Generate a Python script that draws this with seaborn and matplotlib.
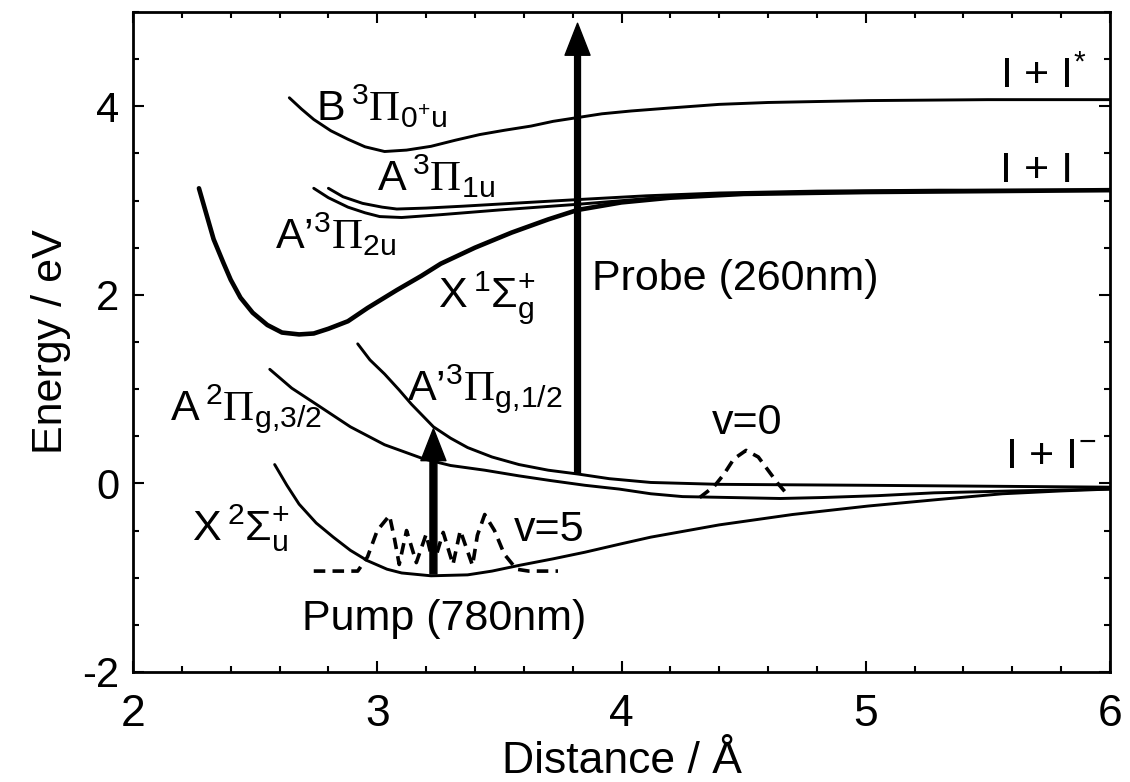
import matplotlib
matplotlib.use('Agg')
import matplotlib.pyplot as plt
import seaborn as sns
from matplotlib.ticker import MultipleLocator

# potential energy curves: distance (A) / energy (eV)
b_x = [2.64, 2.69, 2.74, 2.81, 2.88, 2.95, 3.03, 3.12, 3.22, 3.32, 3.42, 3.52, 3.63, 3.72,
       3.82, 3.92, 4.04, 4.19, 4.40, 4.60, 4.80, 5.01, 5.50, 6.00]
b_y = [4.09, 3.97, 3.86, 3.74, 3.65, 3.57, 3.52, 3.535, 3.575, 3.64, 3.70, 3.745, 3.79, 3.84,
       3.88, 3.92, 3.95, 3.98, 4.02, 4.04, 4.05, 4.06, 4.07, 4.07]

a1u_x = [2.80, 2.86, 2.94, 3.02, 3.08, 3.20, 3.35, 3.55, 3.82, 4.10, 4.40, 4.80, 5.30, 6.00]
a1u_y = [3.13, 3.04, 2.97, 2.93, 2.91, 2.92, 2.94, 2.97, 3.01, 3.05, 3.08, 3.10, 3.11, 3.11]

a2u_x = [2.74, 2.80, 2.88, 2.95, 3.01, 3.10, 3.26, 3.50, 3.82, 4.10, 4.40, 4.80, 5.30, 6.00]
a2u_y = [3.13, 3.03, 2.93, 2.87, 2.83, 2.82, 2.85, 2.90, 2.96, 3.02, 3.06, 3.09, 3.10, 3.11]

xg_x = [2.27, 2.30, 2.33, 2.37, 2.40, 2.44, 2.49, 2.55, 2.61, 2.68, 2.74, 2.80, 2.88, 2.96,
        3.08, 3.18, 3.26, 3.40, 3.55, 3.70, 3.82, 4.00, 4.20, 4.50, 5.00, 6.00]
xg_y = [3.13, 2.86, 2.59, 2.34, 2.16, 1.97, 1.81, 1.68, 1.60, 1.58, 1.59, 1.64, 1.72, 1.86,
        2.05, 2.20, 2.33, 2.50, 2.66, 2.80, 2.90, 2.98, 3.03, 3.07, 3.09, 3.11]

ag32_x = [2.56, 2.65, 2.75, 2.89, 3.03, 3.19, 3.30, 3.44, 3.58, 3.71, 3.85, 3.99, 4.12, 4.25,
          4.45, 4.65, 4.82, 5.05, 5.28, 5.60, 6.00]
ag32_y = [1.21, 1.01, 0.84, 0.60, 0.41, 0.26, 0.19, 0.14, 0.08, 0.03, -0.02, -0.06, -0.11, -0.14,
          -0.15, -0.16, -0.15, -0.13, -0.10, -0.08, -0.06]

ag12_x = [2.92, 2.97, 3.03, 3.09, 3.14, 3.23, 3.30, 3.37, 3.47, 3.58, 3.70, 3.82, 3.95, 4.12,
          4.40, 5.00, 6.00]
ag12_y = [1.48, 1.31, 1.16, 0.99, 0.84, 0.60, 0.48, 0.38, 0.28, 0.20, 0.14, 0.10, 0.05, 0.01,
          -0.01, -0.02, -0.04]

xu_x = [2.58, 2.63, 2.68, 2.75, 2.82, 2.89, 2.96, 3.04, 3.10, 3.22, 3.37, 3.47, 3.58, 3.72,
        3.85, 4.00, 4.12, 4.40, 4.70, 5.01, 5.30, 5.56, 5.80, 6.00]
xu_y = [0.20, -0.02, -0.22, -0.42, -0.57, -0.71, -0.82, -0.91, -0.95, -0.98, -0.97, -0.93, -0.87, -0.80,
        -0.73, -0.64, -0.57, -0.44, -0.33, -0.24, -0.17, -0.11, -0.08, -0.06]

# vibrational wavefunctions (dashed)
v5_x = [2.74, 2.92, 2.96, 3.00, 3.05, 3.07, 3.09, 3.12, 3.16, 3.20, 3.23, 3.27, 3.31, 3.34,
        3.39, 3.41, 3.44, 3.48, 3.52, 3.57, 3.62, 3.74]
v5_y = [-0.93, -0.93, -0.78, -0.50, -0.34, -0.58, -0.86, -0.50, -0.84, -0.54, -0.86, -0.52, -0.86, -0.50,
        -0.87, -0.55, -0.33, -0.50, -0.75, -0.91, -0.93, -0.93]

v0_x = [4.32, 4.38, 4.42, 4.46, 4.51, 4.56, 4.60, 4.64, 4.68]
v0_y = [-0.15, -0.03, 0.10, 0.26, 0.35, 0.28, 0.14, 0.00, -0.12]

# pump / probe transitions: (x, y_start, y_end)
pump = (3.23, -0.96, 0.58)
probe = (3.82, 0.10, 4.88)

labels = [
    (2.75, 3.84, r'B$\,^{3}\mathcal{Π}_{0^{+}u}$'),
    (3.00, 3.10, r'A$\,^{3}\mathcal{Π}_{1u}$'),
    (2.58, 2.48, r'A’$^{3}\mathcal{Π}_{2u}$'),
    (3.25, 1.87, r'X$\,^{1}Σ_{g}^{+}$'),
    (3.88, 2.05, 'Probe (260nm)'),
    (2.15, 0.67, r'A$\,^{2}\mathcal{Π}_{g{,}3/2}$'),
    (3.12, 0.88, r'A’$^{3}\mathcal{Π}_{g{,}1/2}$'),
    (2.24, -0.61, r'X$\,^{2}Σ_{u}^{+}$'),
    (3.56, -0.61, 'v=5'),
    (2.69, -1.56, 'Pump (780nm)'),
    (4.37, 0.52, 'v=0'),
    (5.55, 4.19, r'I + I$^{*}$'),
    (5.55, 3.20, 'I + I'),
    (5.57, 0.16, r'I + I$^{-}$'),
]

sns.set_theme(style='ticks')
plt.rcParams['font.family'] = ['Liberation Sans', 'DejaVu Sans']
plt.rcParams['mathtext.fontset'] = 'custom'
plt.rcParams['mathtext.rm'] = 'Liberation Sans'
plt.rcParams['mathtext.it'] = 'Liberation Sans'
plt.rcParams['mathtext.cal'] = 'Liberation Serif'
plt.rcParams['mathtext.default'] = 'regular'
plt.rcParams['axes.unicode_minus'] = False
for key in ['text.color', 'axes.labelcolor', 'xtick.color', 'ytick.color', 'axes.edgecolor']:
    plt.rcParams[key] = 'black'

fig = plt.figure(figsize=(11.3, 7.82), dpi=100)
ax = fig.add_axes([0.1177, 0.1407, 0.8646, 0.844])

thin = dict(color='black', linewidth=2.1, sort=False, estimator=None, ax=ax)
for xs, ys in [(b_x, b_y), (a1u_x, a1u_y), (a2u_x, a2u_y), (ag32_x, ag32_y),
               (ag12_x, ag12_y), (xu_x, xu_y)]:
    sns.lineplot(x=xs, y=ys, **thin)
sns.lineplot(x=xg_x, y=xg_y, color='black', linewidth=3.3, sort=False, estimator=None, ax=ax)

for xs, ys in [(v5_x, v5_y), (v0_x, v0_y)]:
    sns.lineplot(x=xs, y=ys, color='black', linewidth=2.6, linestyle=(0, (3.2, 2.0)),
                 sort=False, estimator=None, ax=ax)

for (x0, y0, y1), w in [(pump, 5.0), (probe, 4.2)]:
    ax.annotate('', xy=(x0, y1), xytext=(x0, y0),
                arrowprops=dict(facecolor='black', edgecolor='black', width=w,
                                headwidth=18, headlength=23, shrink=0))

for x, y, s in labels:
    ax.text(x, y, s, fontsize=31, ha='left', va='baseline', color='black')

ax.set_xlim(2, 6)
ax.set_ylim(-2, 5)
ax.xaxis.set_major_locator(MultipleLocator(1))
ax.xaxis.set_minor_locator(MultipleLocator(0.2))
ax.yaxis.set_major_locator(MultipleLocator(2))
ax.yaxis.set_minor_locator(MultipleLocator(0.5))
ax.tick_params(which='both', direction='in', top=True, right=True, color='black', width=1.5)
ax.tick_params(which='major', length=8)
ax.tick_params(which='minor', length=4)
ax.tick_params(axis='x', which='major', labelsize=32, pad=16)
ax.tick_params(axis='y', which='major', labelsize=30, pad=10)
for sp in ax.spines.values():
    sp.set_linewidth(2.0)
    sp.set_color('black')

ax.set_xlabel('Distance / Å', fontsize=32, labelpad=4)
ax.set_ylabel('Energy / eV', fontsize=31, labelpad=8)

fig.savefig('out.png', dpi=100)
